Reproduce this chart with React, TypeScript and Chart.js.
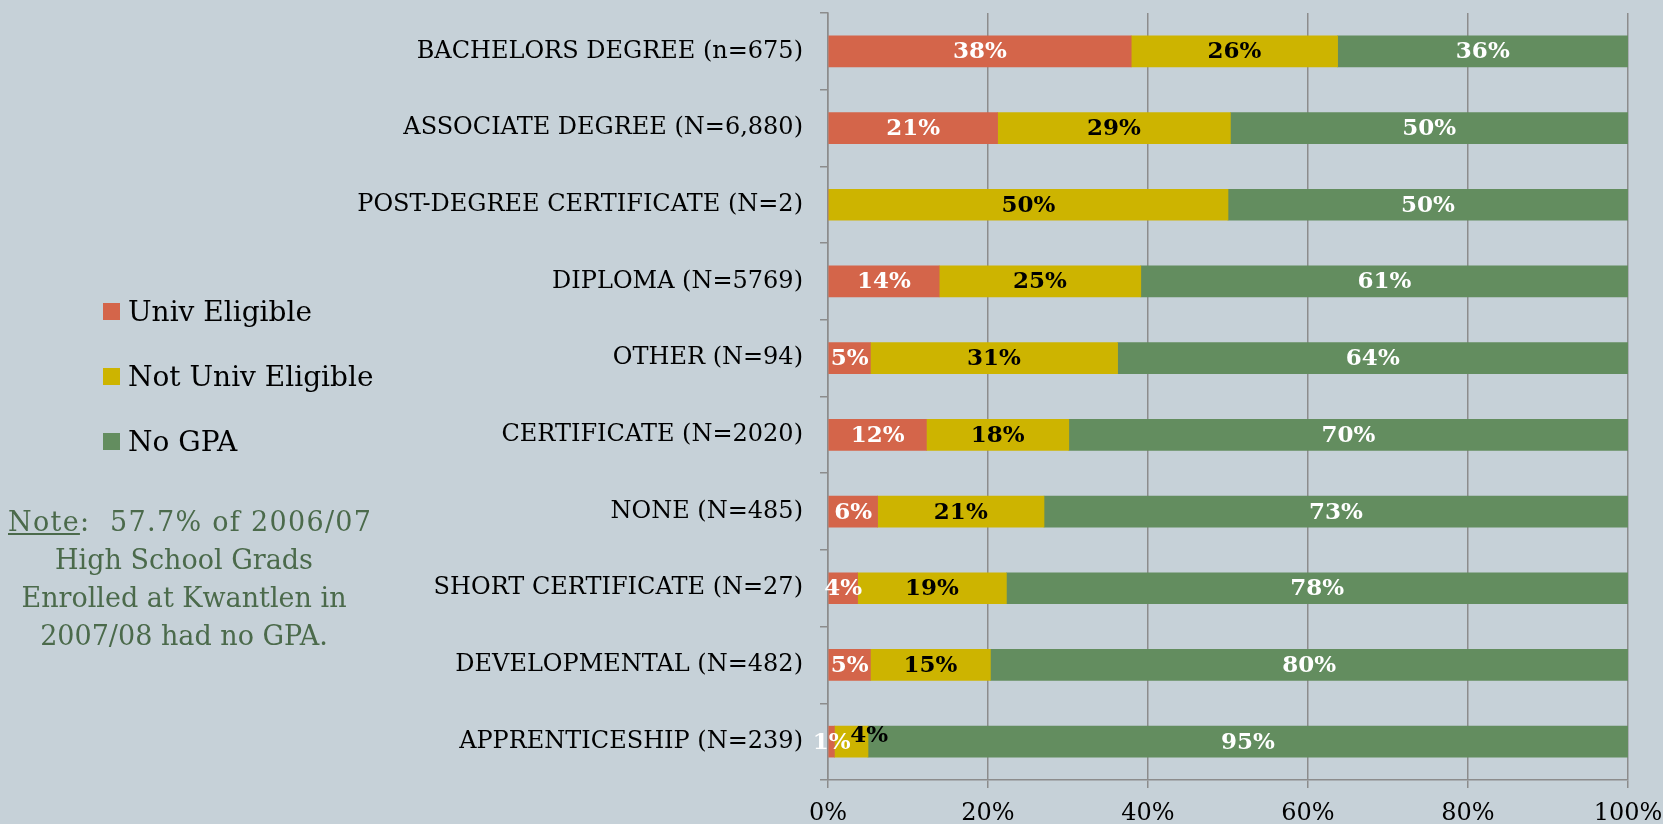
import React, { useEffect, useRef } from 'react';
import { Chart, registerables } from 'chart.js';

Chart.register(...registerables);

const categories = [
  'BACHELORS DEGREE (n=675)',
  'ASSOCIATE DEGREE (N=6,880)',
  'POST-DEGREE CERTIFICATE (N=2)',
  'DIPLOMA (N=5769)',
  'OTHER (N=94)',
  'CERTIFICATE (N=2020)',
  'NONE (N=485)',
  'SHORT CERTIFICATE (N=27)',
  'DEVELOPMENTAL (N=482)',
  'APPRENTICESHIP (N=239)',
];
const univEligible = [37.9, 21.2, 0, 13.9, 5.3, 12.3, 6.2, 3.7, 5.3, 0.8];
const notUnivEligible = [25.8, 29.1, 50, 25.2, 30.9, 17.8, 20.8, 18.6, 15.0, 4.2];
const noGpa = [36.3, 49.7, 50, 60.9, 63.8, 69.9, 73.0, 77.7, 79.7, 95.0];
const seriesNames = ['Univ Eligible', 'Not Univ Eligible', 'No GPA'];
const seriesColors = ['#d4654a', '#cdb400', '#638d5f'];
const labelColors = ['#ffffff', '#000000', '#ffffff'];
const xTickStep = 20;
const noteLines = [':  57.7% of 2006/07', 'High School Grads', 'Enrolled at Kwantlen in', '2007/08 had no GPA.'];

const BG = '#c6d1d8';
const GRID = '#8c8c8c';
const FONT = "'DejaVu Serif', Georgia, serif";

const valueLabels = {
  id: 'valueLabels',
  afterDatasetsDraw(chart: any) {
    const ctx = chart.ctx;
    ctx.save();
    ctx.font = `bold 23px ${FONT}`;
    ctx.textAlign = 'center';
    ctx.textBaseline = 'middle';
    chart.data.datasets.forEach((ds: any, di: number) => {
      const meta = chart.getDatasetMeta(di);
      meta.data.forEach((el: any, i: number) => {
        const v = ds.data[i];
        if (!v || v <= 0) return;
        let x = (el.x + el.base) / 2;
        let y = el.y + 1;
        // overlapping small segment in the last row is nudged to the right
        if (di === 1 && i === categories.length - 1) {
          x += 18;
          y -= 7;
        }
        ctx.fillStyle = labelColors[di];
        ctx.fillText(Math.round(v) + '%', x, y);
      });
    });
    ctx.restore();
  },
};

function ChartCanvas() {
  const ref = useRef<HTMLCanvasElement>(null);
  useEffect(() => {
    if (!ref.current) return;
    const seriesData = [univEligible, notUnivEligible, noGpa];
    const chart = new Chart(ref.current, {
      type: 'bar',
      data: {
        labels: categories,
        datasets: seriesNames.map((name, k) => ({
          label: name,
          data: seriesData[k],
          backgroundColor: seriesColors[k],
          borderWidth: 0,
          barThickness: 31,
        })),
      },
      options: {
        indexAxis: 'y',
        responsive: false,
        animation: false,
        layout: { padding: { top: 13, right: 35, bottom: 0, left: 0 } },
        plugins: {
          legend: { display: false },
          tooltip: { enabled: false },
        },
        scales: {
          x: {
            stacked: true,
            min: 0,
            max: 100,
            ticks: {
              stepSize: xTickStep,
              callback: (v: any) => v + '%',
              color: '#000',
              font: { family: FONT, size: 24 },
              padding: 11,
              maxRotation: 0,
            },
            grid: { color: GRID, lineWidth: 1.5, drawTicks: true, tickLength: 8, tickColor: GRID },
            border: { display: true, color: GRID, width: 1.5 },
            afterFit: (axis: any) => { axis.height = 44; axis.paddingLeft = 0; axis.paddingRight = 0; },
          },
          y: {
            stacked: true,
            ticks: {
              color: '#000',
              font: { family: FONT, size: 24 },
              padding: 17,
              autoSkip: false,
            },
            grid: { offset: true, drawOnChartArea: false, drawTicks: true, tickLength: 8, color: GRID, lineWidth: 1.5 },
            border: { display: true, color: GRID, width: 1.5 },
            afterFit: (axis: any) => { axis.width = 828; axis.paddingTop = 0; axis.paddingBottom = 0; },
          },
        },
      },
      plugins: [valueLabels],
    });
    return () => chart.destroy();
  }, []);
  return <canvas ref={ref} width={1663} height={824} style={{ position: 'absolute', left: 0, top: 0 }} />;
}

export default function App() {
  return (
    <div style={{ position: 'absolute', left: 0, top: 0, width: 1663, height: 824, background: BG, overflow: 'hidden', fontFamily: FONT }}>
      <ChartCanvas />
      {seriesNames.map((name, k) => (
        <div key={name} style={{ position: 'absolute', left: 103, top: 311.5 + k * 65 - 20, height: 40, display: 'flex', alignItems: 'center' }}>
          <span style={{ display: 'inline-block', width: 17, height: 17, background: seriesColors[k], marginRight: 8 }} />
          <span style={{ fontSize: 28, color: '#000', whiteSpace: 'nowrap', lineHeight: '40px' }}>{name}</span>
        </div>
      ))}
      <div style={{ position: 'absolute', left: 0, width: 368, top: 503, fontSize: 27, lineHeight: '38px', color: '#4b6a4b', textAlign: 'center', whiteSpace: 'pre' }}>
        <div style={{ letterSpacing: 1.3, marginLeft: 8 }}><span style={{ textDecoration: 'underline' }}>Note</span>{noteLines[0]}</div>
        {noteLines.slice(1).map((l) => (<div key={l}>{l}</div>))}
      </div>
    </div>
  );
}
